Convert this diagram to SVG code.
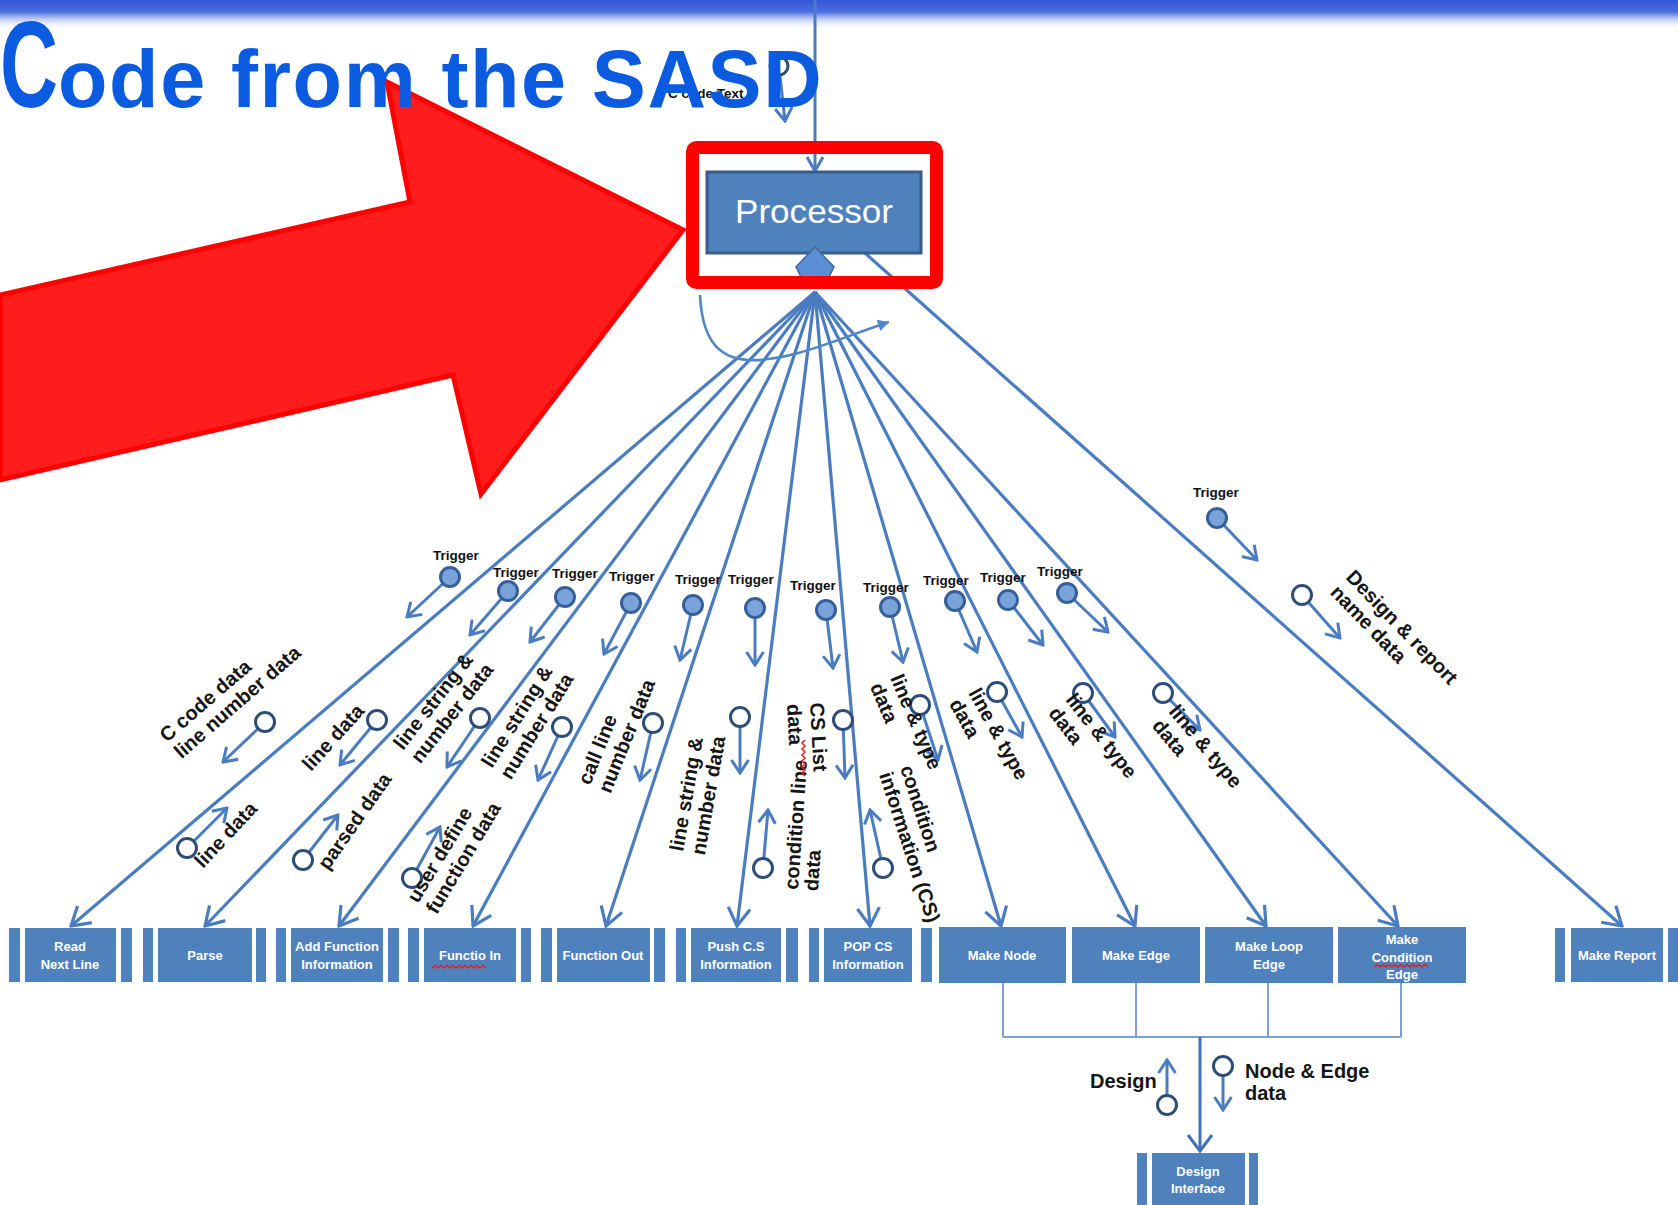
<svg xmlns="http://www.w3.org/2000/svg" width="1678" height="1205" viewBox="0 0 1678 1205">
  <defs>
    <linearGradient id="topBand" x1="0" y1="0" x2="0" y2="1">
      <stop offset="0" stop-color="#3556d6"/>
      <stop offset="0.4" stop-color="#4a6fe0"/>
      <stop offset="1" stop-color="#ffffff" stop-opacity="0"/>
    </linearGradient>
    <marker id="bigHead" viewBox="-22 -13 24 26" markerWidth="24" markerHeight="26" refX="0" refY="0" orient="auto" markerUnits="userSpaceOnUse">
      <path d="M-18,-11 L0,0 L-18,11" fill="none" stroke="#4a7cc0" stroke-width="3.2" stroke-linejoin="miter"/>
    </marker>
    <marker id="smallHead" viewBox="-16 -11 18 22" markerWidth="18" markerHeight="22" refX="0" refY="0" orient="auto" markerUnits="userSpaceOnUse">
      <path d="M-13,-8.5 L0,0 L-13,8.5" fill="none" stroke="#4a7cc0" stroke-width="3" stroke-linejoin="miter"/>
    </marker>
    <marker id="fillHead" viewBox="-12 -7 13 14" markerWidth="13" markerHeight="14" refX="0" refY="0" orient="auto" markerUnits="userSpaceOnUse">
      <path d="M-11,-6 L0,0 L-11,6 Z" fill="#4f86c6"/>
    </marker>
    <style>
      .fan { fill: none; stroke: #4a7cc0; stroke-width: 3.2; marker-end: url(#bigHead); }
      .flow { fill: none; stroke: #4a7cc0; stroke-width: 3; marker-end: url(#smallHead); }
      .trig { fill: #7aa3da; stroke: #355f9c; stroke-width: 3; }
      .data { fill: #ffffff; stroke: #2d4d78; stroke-width: 3; }
      .tl { font-family: "Liberation Sans", Arial, sans-serif; font-size: 13.5px; font-weight: bold; fill: #111; }
      .lbl { font-family: "Liberation Sans", Arial, sans-serif; font-size: 20px; font-weight: bold; fill: #151515; }
      .box { fill: #4f81bd; }
      .bt { font-family: "Liberation Sans", Arial, sans-serif; font-size: 13px; font-weight: bold; fill: #ffffff; text-anchor: middle; }
      .wavy { fill: none; stroke: #e02020; stroke-width: 1.5; }
      .bus { fill: none; stroke: #7aa0d4; stroke-width: 2; }
    </style>
  </defs>

  <rect x="0" y="0" width="1678" height="1205" fill="#ffffff"/>
  <rect x="0" y="0" width="1678" height="30" fill="url(#topBand)"/>

  <!-- incoming source text flow at the top -->
  <g id="input-flow">
    <text class="tl" x="668" y="98" font-size="13">C code Text</text>
    <line x1="779" y1="67" x2="785" y2="121" class="flow"/>
    <circle cx="779" cy="66" r="9" class="data"/>
  </g>

  <!-- connectors from the processor hub to every module -->
  <g id="connectors">
    <path d="M815,0 V171" fill="none" stroke="#4a7cc0" stroke-width="3"/>
    <path d="M807,157 L815,171 L823,157" fill="none" stroke="#4a7cc0" stroke-width="3"/>
    <line x1="815" y1="292" x2="71" y2="926" class="fan"/>
    <line x1="815" y1="292" x2="205" y2="926" class="fan"/>
    <line x1="815" y1="292" x2="339" y2="926" class="fan"/>
    <line x1="815" y1="292" x2="473" y2="926" class="fan"/>
    <line x1="815" y1="292" x2="606" y2="926" class="fan"/>
    <line x1="815" y1="292" x2="737" y2="926" class="fan"/>
    <line x1="815" y1="292" x2="870" y2="926" class="fan"/>
    <line x1="815" y1="292" x2="1001" y2="926" class="fan"/>
    <line x1="815" y1="292" x2="1135" y2="926" class="fan"/>
    <line x1="815" y1="292" x2="1266" y2="926" class="fan"/>
    <line x1="815" y1="292" x2="1398" y2="926" class="fan"/>
    <line x1="865" y1="253" x2="1622" y2="926" class="fan"/>
    <path d="M700,295 C702,335 715,358 748,360 C790,362 840,338 889,322" fill="none" stroke="#4f86c6" stroke-width="2.6" marker-end="url(#fillHead)"/>
    <!-- bus joining the graph builders to the design interface -->
    <path class="bus" d="M1003,983 V1037 M1136,983 V1037 M1268,983 V1037 M1401,983 V1037 M1003,1037 H1401"/>
    <path d="M1200,1037 V1151" fill="none" stroke="#3f72b8" stroke-width="3"/>
    <path d="M1188,1135 L1200,1151 L1212,1135" fill="none" stroke="#3f72b8" stroke-width="3"/>
  </g>

  <!-- trigger flows -->
  <g id="triggers">
    <line x1="450" y1="577" x2="407" y2="617" class="flow"/><circle cx="450" cy="577" r="9.5" class="trig"/><text class="tl" x="433" y="560">Trigger</text>
    <line x1="508" y1="591" x2="470" y2="635" class="flow"/><circle cx="508" cy="591" r="9.5" class="trig"/><text class="tl" x="493" y="577">Trigger</text>
    <line x1="565" y1="597" x2="530" y2="642" class="flow"/><circle cx="565" cy="597" r="9.5" class="trig"/><text class="tl" x="552" y="578">Trigger</text>
    <line x1="631" y1="603" x2="604" y2="654" class="flow"/><circle cx="631" cy="603" r="9.5" class="trig"/><text class="tl" x="609" y="581">Trigger</text>
    <line x1="693" y1="605" x2="680" y2="660" class="flow"/><circle cx="693" cy="605" r="9.5" class="trig"/><text class="tl" x="675" y="584">Trigger</text>
    <line x1="755" y1="608" x2="755" y2="665" class="flow"/><circle cx="755" cy="608" r="9.5" class="trig"/><text class="tl" x="728" y="584">Trigger</text>
    <line x1="826" y1="610" x2="833" y2="668" class="flow"/><circle cx="826" cy="610" r="9.5" class="trig"/><text class="tl" x="790" y="590">Trigger</text>
    <line x1="890" y1="607" x2="903" y2="662" class="flow"/><circle cx="890" cy="607" r="9.5" class="trig"/><text class="tl" x="863" y="592">Trigger</text>
    <line x1="955" y1="601" x2="977" y2="652" class="flow"/><circle cx="955" cy="601" r="9.5" class="trig"/><text class="tl" x="923" y="585">Trigger</text>
    <line x1="1008" y1="600" x2="1043" y2="645" class="flow"/><circle cx="1008" cy="600" r="9.5" class="trig"/><text class="tl" x="980" y="582">Trigger</text>
    <line x1="1067" y1="593" x2="1108" y2="632" class="flow"/><circle cx="1067" cy="593" r="9.5" class="trig"/><text class="tl" x="1037" y="576">Trigger</text>
    <line x1="1217" y1="518" x2="1257" y2="560" class="flow"/><circle cx="1217" cy="518" r="9.5" class="trig"/><text class="tl" x="1193" y="497">Trigger</text>
  </g>

  <!-- data flows -->
  <g id="data-flows">
    <line x1="265" y1="722" x2="223" y2="762" class="flow"/><circle cx="265" cy="722" r="9.5" class="data"/>
    <text class="lbl" transform="translate(167 743) rotate(-41)"><tspan x="0" y="0">C code data</tspan><tspan x="0" y="22">line number data</tspan></text>

    <line x1="187" y1="848" x2="227" y2="808" class="flow"/><circle cx="187" cy="848" r="9.5" class="data"/>
    <text class="lbl" transform="translate(203 869) rotate(-47)">line data</text>

    <line x1="377" y1="720" x2="340" y2="765" class="flow"/><circle cx="377" cy="720" r="9.5" class="data"/>
    <text class="lbl" transform="translate(311 772) rotate(-48)">line data</text>

    <line x1="303" y1="860" x2="338" y2="815" class="flow"/><circle cx="303" cy="860" r="9.5" class="data"/>
    <text class="lbl" transform="translate(328 871) rotate(-55)">parsed data</text>

    <line x1="480" y1="718" x2="447" y2="767" class="flow"/><circle cx="480" cy="718" r="9.5" class="data"/>
    <text class="lbl" transform="translate(403 751) rotate(-52)"><tspan x="0" y="0">line string &amp;</tspan><tspan x="0" y="22">number data</tspan></text>

    <line x1="412" y1="878" x2="440" y2="827" class="flow"/><circle cx="412" cy="878" r="9.5" class="data"/>
    <text class="lbl" transform="translate(418 904) rotate(-59)"><tspan x="0" y="0">user define</tspan><tspan x="0" y="22">function data</tspan></text>

    <line x1="562" y1="727" x2="538" y2="780" class="flow"/><circle cx="562" cy="727" r="9.5" class="data"/>
    <text class="lbl" transform="translate(492 769) rotate(-58)"><tspan x="0" y="0">line string &amp;</tspan><tspan x="0" y="22">number data</tspan></text>

    <line x1="653" y1="723" x2="640" y2="780" class="flow"/><circle cx="653" cy="723" r="9.5" class="data"/>
    <text class="lbl" transform="translate(590 786) rotate(-68)"><tspan x="0" y="0">call line</tspan><tspan x="0" y="22">number data</tspan></text>

    <line x1="740" y1="717" x2="740" y2="773" class="flow"/><circle cx="740" cy="717" r="9.5" class="data"/>
    <text class="lbl" transform="translate(683 852) rotate(-80)"><tspan x="0" y="0">line string &amp;</tspan><tspan x="0" y="22">number data</tspan></text>

    <line x1="763" y1="868" x2="768" y2="810" class="flow"/><circle cx="763" cy="868" r="9.5" class="data"/>
    <text class="lbl" transform="translate(798 890) rotate(-86)"><tspan x="0" y="0">condition line</tspan><tspan x="0" y="20">data</tspan></text>

    <line x1="843" y1="720" x2="845" y2="778" class="flow"/><circle cx="843" cy="720" r="9.5" class="data"/>
    <text class="lbl" transform="translate(810 703) rotate(87)"><tspan x="0" y="0">CS List</tspan><tspan x="0" y="23">data</tspan></text>
    <path class="wavy" d="M805,740 l-3,3 l3,3 l-3,3 l3,3 l-3,3 l3,3 l-3,3 l3,3 l-3,3 l3,3 l-3,3 l3,3"/>

    <line x1="883" y1="868" x2="870" y2="810" class="flow"/><circle cx="883" cy="868" r="9.5" class="data"/>
    <text class="lbl" transform="translate(900 768) rotate(72)"><tspan x="0" y="0">condition</tspan><tspan x="0" y="22">information (CS)</tspan></text>

    <line x1="920" y1="705" x2="938" y2="760" class="flow"/><circle cx="920" cy="705" r="9.5" class="data"/>
    <text class="lbl" transform="translate(890 678) rotate(67)"><tspan x="0" y="0">line &amp; type</tspan><tspan x="0" y="22">data</tspan></text>

    <line x1="997" y1="692" x2="1022" y2="737" class="flow"/><circle cx="997" cy="692" r="9.5" class="data"/>
    <text class="lbl" transform="translate(968 693) rotate(61)"><tspan x="0" y="0">line &amp; type</tspan><tspan x="0" y="22">data</tspan></text>

    <line x1="1083" y1="693" x2="1115" y2="737" class="flow"/><circle cx="1083" cy="693" r="9.5" class="data"/>
    <text class="lbl" transform="translate(1065 700) rotate(52)"><tspan x="0" y="0">line &amp; type</tspan><tspan x="0" y="22">data</tspan></text>

    <line x1="1163" y1="693" x2="1200" y2="730" class="flow"/><circle cx="1163" cy="693" r="9.5" class="data"/>
    <text class="lbl" transform="translate(1168 712) rotate(50)"><tspan x="0" y="0">line &amp; type</tspan><tspan x="0" y="22">data</tspan></text>

    <line x1="1302" y1="595" x2="1340" y2="638" class="flow"/><circle cx="1302" cy="595" r="9.5" class="data"/>
    <text class="lbl" transform="translate(1345 578) rotate(46)"><tspan x="0" y="0">Design &amp; report</tspan><tspan x="0" y="22">name data</tspan></text>

    <line x1="1167" y1="1105" x2="1167" y2="1060" class="flow"/><circle cx="1167" cy="1105" r="9.5" class="data"/>
    <text class="lbl" x="1090" y="1088" font-size="18">Design</text>
    <line x1="1223" y1="1066" x2="1223" y2="1110" class="flow"/><circle cx="1223" cy="1066" r="9.5" class="data"/>
    <text class="lbl" x="1245" y="1078" font-size="19"><tspan x="1245" y="1078">Node &amp; Edge</tspan><tspan x="1245" y="1100">data</tspan></text>
  </g>

  <!-- module boxes -->
  <g id="node-read-next-line">
    <rect class="box" x="25" y="928" width="91" height="54"/>
    <text class="bt" x="70" y="951">Read</text><text class="bt" x="70" y="969">Next Line</text>
    <rect class="box" x="9" y="928" width="11" height="54"/><rect class="box" x="121" y="928" width="11" height="54"/>
  </g>
  <g id="node-parse">
    <rect class="box" x="158" y="928" width="94" height="54"/>
    <text class="bt" x="205" y="960">Parse</text>
    <rect class="box" x="143" y="928" width="10" height="54"/><rect class="box" x="256" y="928" width="10" height="54"/>
  </g>
  <g id="node-add-function">
    <rect class="box" x="291" y="928" width="92" height="54"/>
    <text class="bt" x="337" y="951" font-size="14">Add Function</text><text class="bt" x="337" y="969" font-size="14">Information</text>
    <rect class="box" x="276" y="928" width="10" height="54"/><rect class="box" x="388" y="928" width="11" height="54"/>
  </g>
  <g id="node-function-in">
    <rect class="box" x="424" y="928" width="92" height="54"/>
    <text class="bt" x="470" y="960">Functio In</text>
    <path class="wavy" d="M432,968 l3,-2.5 l3,2.5 l3,-2.5 l3,2.5 l3,-2.5 l3,2.5 l3,-2.5 l3,2.5 l3,-2.5 l3,2.5 l3,-2.5 l3,2.5 l3,-2.5 l3,2.5 l3,-2.5 l3,2.5 l3,-2.5 l3,2.5"/>
    <rect class="box" x="408" y="928" width="11" height="54"/><rect class="box" x="521" y="928" width="10" height="54"/>
  </g>
  <g id="node-function-out">
    <rect class="box" x="557" y="928" width="93" height="54"/>
    <text class="bt" x="603" y="960" font-size="14">Function Out</text>
    <rect class="box" x="541" y="928" width="11" height="54"/><rect class="box" x="654" y="928" width="11" height="54"/>
  </g>
  <g id="node-push-cs">
    <rect class="box" x="691" y="928" width="90" height="54"/>
    <text class="bt" x="736" y="951">Push C.S</text><text class="bt" x="736" y="969" font-size="14">Information</text>
    <rect class="box" x="676" y="928" width="10" height="54"/><rect class="box" x="786" y="928" width="12" height="54"/>
  </g>
  <g id="node-pop-cs">
    <rect class="box" x="824" y="928" width="88" height="54"/>
    <text class="bt" x="868" y="951">POP CS</text><text class="bt" x="868" y="969" font-size="14">Information</text>
    <rect class="box" x="809" y="928" width="10" height="54"/><rect class="box" x="921" y="928" width="11" height="54"/>
  </g>
  <g id="node-make-node">
    <rect class="box" x="939" y="927" width="127" height="56"/>
    <text class="bt" x="1002" y="960">Make Node</text>
  </g>
  <g id="node-make-edge">
    <rect class="box" x="1072" y="927" width="128" height="56"/>
    <text class="bt" x="1136" y="960">Make Edge</text>
  </g>
  <g id="node-make-loop-edge">
    <rect class="box" x="1205" y="927" width="128" height="56"/>
    <text class="bt" x="1269" y="951">Make Loop</text><text class="bt" x="1269" y="969">Edge</text>
  </g>
  <g id="node-make-condition-edge">
    <rect class="box" x="1338" y="927" width="128" height="56"/>
    <text class="bt" x="1402" y="944" font-size="12">Make</text><text class="bt" x="1402" y="962" font-size="12">Condition</text><text class="bt" x="1402" y="979" font-size="12">Edge</text>
    <path class="wavy" d="M1374,967 l3,-2.5 l3,2.5 l3,-2.5 l3,2.5 l3,-2.5 l3,2.5 l3,-2.5 l3,2.5 l3,-2.5 l3,2.5 l3,-2.5 l3,2.5 l3,-2.5 l3,2.5 l3,-2.5 l3,2.5 l3,-2.5 l3,2.5"/>
  </g>
  <g id="node-make-report">
    <rect class="box" x="1571" y="928" width="92" height="54"/>
    <text class="bt" x="1617" y="960" font-size="14">Make Report</text>
    <rect class="box" x="1555" y="928" width="10" height="54"/><rect class="box" x="1668" y="928" width="10" height="54"/>
  </g>
  <g id="node-design-interface">
    <rect class="box" x="1152" y="1153" width="93" height="60"/>
    <text class="bt" x="1198" y="1176" font-size="12">Design</text><text class="bt" x="1198" y="1193" font-size="12">Interface</text>
    <rect class="box" x="1137" y="1153" width="10" height="60"/><rect class="box" x="1249" y="1153" width="9" height="60"/>
  </g>

  <!-- processor -->
  <g id="node-processor">
    <rect x="707" y="172" width="214" height="81" fill="#4f81bd" stroke="#385d8a" stroke-width="3"/>
    <text x="814" y="223" text-anchor="middle" font-family="'Liberation Sans', Arial, sans-serif" font-size="34" fill="#ffffff" textLength="158" lengthAdjust="spacingAndGlyphs">Processor</text>
    <polygon points="815,247 834,267 829,277 801,277 796,267" fill="#5b8fd3" stroke="#41679e" stroke-width="1.5"/>
  </g>

  <!-- highlight frame and pointer -->
  <g id="highlight">
    <rect x="692.5" y="147.5" width="244" height="135" rx="4" fill="none" stroke="#ff0000" stroke-width="13"/>
    <polygon points="0,295 410,202 387,82 683,230 481,494 453,375 0,480" fill="#ff1c1c" stroke="#ff0000" stroke-width="5" stroke-linejoin="miter"/>
  </g>

  <!-- heading: oversized drop capital followed by the rest of the line -->
  <g id="title">
    <text x="0" y="107" font-family="'Liberation Sans', Arial, sans-serif" font-weight="bold" fill="#0a5be0"><tspan font-size="122" textLength="58" lengthAdjust="spacingAndGlyphs">C</tspan><tspan font-size="81" letter-spacing="1.6">ode from the SASD</tspan></text>
  </g>
</svg>
